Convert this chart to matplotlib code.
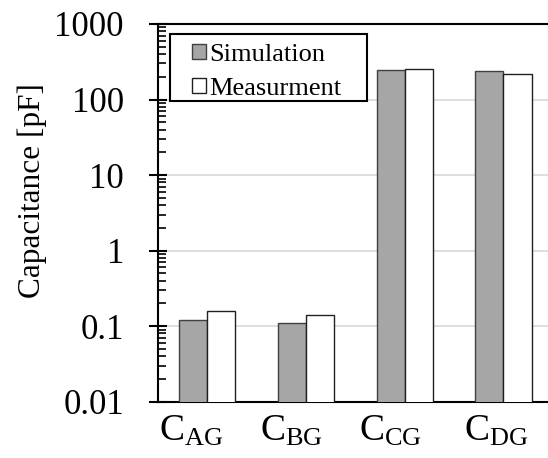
import numpy as np
import matplotlib
matplotlib.use("Agg")
from matplotlib import pyplot as plt
from matplotlib.patches import Rectangle
from matplotlib.ticker import LogLocator, FixedLocator, NullFormatter

plt.rcParams['font.family'] = 'Liberation Serif'
plt.rcParams['mathtext.fontset'] = 'custom'
plt.rcParams['mathtext.rm'] = 'Liberation Serif'

# data
categories = [r'$\mathregular{C_{AG}}$', r'$\mathregular{C_{BG}}$',
              r'$\mathregular{C_{CG}}$', r'$\mathregular{C_{DG}}$']
simulation = [0.12, 0.11, 243, 240]
measurement = [0.16, 0.14, 252, 221]
ytick_vals = [0.01, 0.1, 1, 10, 100, 1000]
ytick_labels = ['0.01', '0.1', '1', '10', '100', '1000']

fig = plt.figure(figsize=(5.48, 4.58), dpi=100)
ax = fig.add_axes([0.2883, 0.1229, 0.7205, 0.8247])

x = np.arange(len(categories))
w = 0.285
ax.bar(x - w / 2, simulation, w, color='#a6a6a6', edgecolor='#404040',
       linewidth=1.0, label='Simulation', zorder=3)
ax.bar(x + w / 2, measurement, w, color='white', edgecolor='#202020',
       linewidth=1.0, label='Measurment', zorder=3)

ax.set_yscale('log')
ax.set_ylim(0.01, 1000)
ax.set_xlim(-0.5, 3.5)

ax.yaxis.set_major_locator(FixedLocator(ytick_vals))
ax.set_yticklabels(ytick_labels)
ax.yaxis.set_minor_locator(LogLocator(base=10, subs=np.arange(2, 10)))
ax.yaxis.set_minor_formatter(NullFormatter())
ax.tick_params(axis='y', which='major', direction='inout', length=13,
               width=1.5, labelsize=25, pad=18)
ax.tick_params(axis='y', which='minor', direction='in', length=6, width=1.2)

# category labels sit a little left of the bar pairs in the original
label_shift = np.array([-0.16, -0.15, -0.14, -0.07])
ax.set_xticks(x + label_shift)
ax.set_xticklabels(categories)
ax.tick_params(axis='x', length=0, labelsize=27, pad=9)

ax.grid(axis='y', which='major', color='#d9d9d9', linewidth=1.2, zorder=0)
ax.set_axisbelow(True)

for s in ['left', 'top', 'bottom']:
    ax.spines[s].set_linewidth(1.5)
    ax.spines[s].set_color('black')
ax.spines['right'].set_visible(False)

ax.set_ylabel('Capacitance [pF]', fontsize=22.5)
ax.yaxis.set_label_coords(-0.281, 0.56)

# legend box drawn separately so its padding matches the original
ax.add_patch(Rectangle((0.0295, 0.7955), 0.5, 0.178, transform=ax.transAxes,
                       facecolor='white', edgecolor='black', linewidth=1.5,
                       zorder=4))
leg = ax.legend(loc='upper left', bbox_to_anchor=(0.086, 0.947),
                borderaxespad=0, fontsize=19, frameon=False,
                handlelength=0.53, handleheight=0.5, handletextpad=0.12,
                labelspacing=0.45, borderpad=0)
leg.set_zorder(5)

fig.savefig('out.png', dpi=100)
